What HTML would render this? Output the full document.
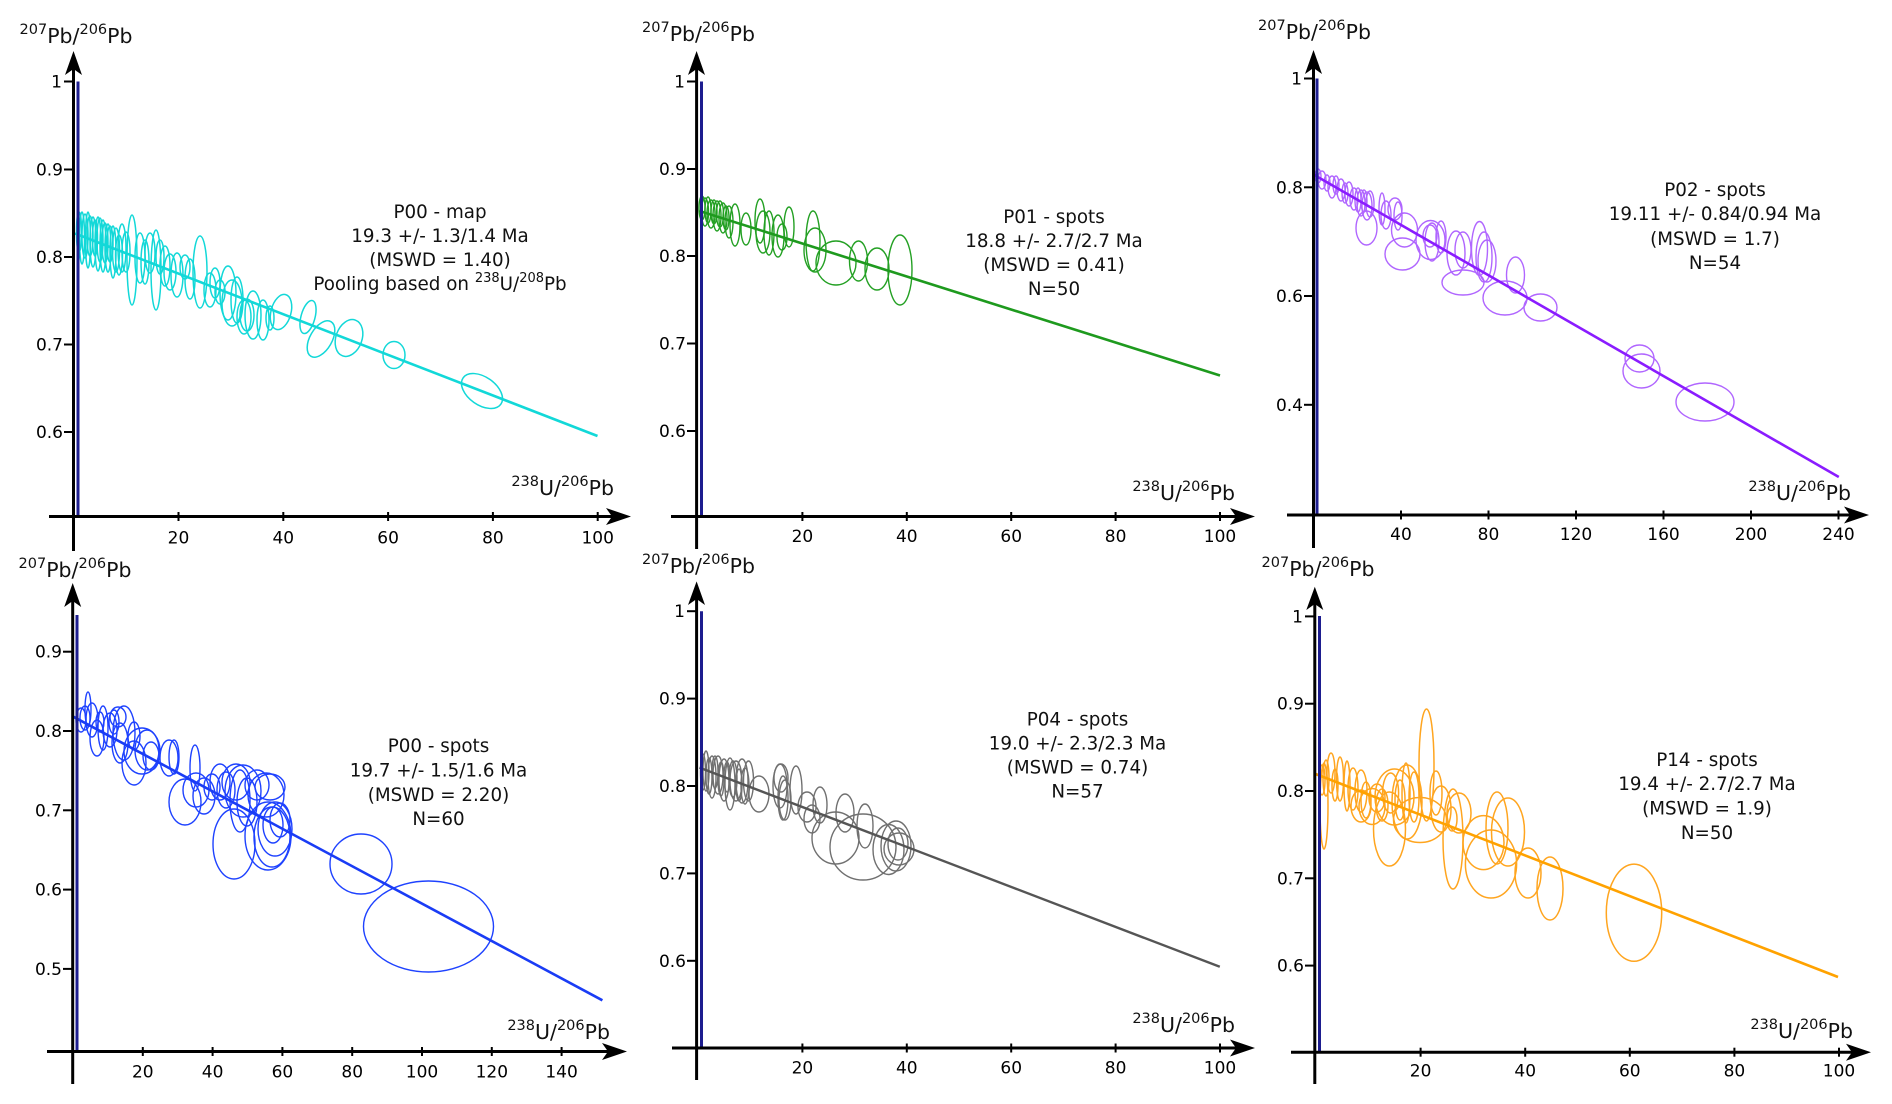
<!DOCTYPE html>
<html><head><meta charset="utf-8"><style>
html,body{margin:0;padding:0;background:#fff;}
svg{display:block;font-family:"DejaVu Sans","Liberation Sans",sans-serif;}
.t{font-size:17px;fill:#000;}
.a{font-size:18.3px;fill:#111;text-anchor:middle;}
.ti{fill:#111;font-size:20.5px;}
.ax{stroke:#000;stroke-width:3;fill:none;}
.tk{stroke:#000;stroke-width:2;}
.bl{stroke:#1d1d8f;stroke-width:3;}
.c1 ellipse{fill:none;stroke:#12d8d8;stroke-width:1.5;}
.c2 ellipse{fill:none;stroke:#23a023;stroke-width:1.4;}
.c3 ellipse{fill:none;stroke:#b066ff;stroke-width:1.4;}
.c4 ellipse{fill:none;stroke:#1e42ff;stroke-width:1.4;}
.c5 ellipse{fill:none;stroke:#707070;stroke-width:1.4;}
.c6 ellipse{fill:none;stroke:#ffa51f;stroke-width:1.5;}
</style></head><body>
<svg width="1892" height="1104" viewBox="0 0 1892 1104" xmlns="http://www.w3.org/2000/svg">
<rect width="1892" height="1104" fill="#fff"/>

<!-- ================= PANEL 1 ================= -->
<g class="c1">
<ellipse cx="79" cy="232" rx="2.5" ry="20"/><ellipse cx="82" cy="238" rx="2.5" ry="26"/><ellipse cx="85" cy="236" rx="3" ry="22"/>
<ellipse cx="88" cy="240" rx="2.5" ry="28"/><ellipse cx="90" cy="236" rx="3" ry="20"/><ellipse cx="93" cy="242" rx="3" ry="25"/>
<ellipse cx="95" cy="238" rx="2.5" ry="18"/><ellipse cx="98" cy="244" rx="3" ry="27"/><ellipse cx="100" cy="240" rx="3" ry="22"/>
<ellipse cx="103" cy="246" rx="3" ry="26"/><ellipse cx="105" cy="243" rx="3" ry="20"/><ellipse cx="108" cy="248" rx="3" ry="24"/>
<ellipse cx="110" cy="244" rx="3" ry="18"/><ellipse cx="113" cy="252" rx="3" ry="26"/><ellipse cx="116" cy="250" rx="3.5" ry="22"/>
<ellipse cx="119" cy="255" rx="3.5" ry="20"/><ellipse cx="122" cy="248" rx="4" ry="24"/><ellipse cx="126" cy="252" rx="4" ry="20"/>
<ellipse cx="132" cy="260" rx="5" ry="45"/><ellipse cx="140" cy="258" rx="5" ry="25"/><ellipse cx="145" cy="262" rx="4" ry="22"/>
<ellipse cx="150" cy="253" rx="5" ry="20"/><ellipse cx="156" cy="270" rx="5" ry="40"/><ellipse cx="160" cy="257" rx="4" ry="17"/>
<ellipse cx="165" cy="266" rx="5" ry="20"/><ellipse cx="170" cy="272" rx="6" ry="18"/><ellipse cx="177" cy="275" rx="6" ry="22"/>
<ellipse cx="185" cy="267" rx="5" ry="12"/><ellipse cx="190" cy="279" rx="5" ry="20"/><ellipse cx="200" cy="272" rx="7" ry="36"/>
<ellipse cx="210" cy="290" rx="6" ry="17"/><ellipse cx="215" cy="283" rx="5" ry="15"/><ellipse cx="220" cy="292" rx="5" ry="12"/>
<ellipse cx="228" cy="293" rx="8" ry="27"/><ellipse cx="232" cy="303" rx="10" ry="23"/><ellipse cx="237" cy="300" rx="6" ry="23"/>
<ellipse cx="244" cy="317" rx="7" ry="17"/><ellipse cx="247" cy="315" rx="7" ry="16"/><ellipse cx="253" cy="315" rx="8" ry="24"/>
<ellipse cx="263" cy="320" rx="6" ry="20"/><ellipse cx="270" cy="318" rx="4" ry="12"/>
<ellipse cx="281" cy="312" rx="10" ry="18" transform="rotate(15 281 312)"/>
<ellipse cx="308" cy="317" rx="7" ry="17" transform="rotate(15 308 317)"/>
<ellipse cx="321" cy="339" rx="11" ry="20" transform="rotate(30 321 339)"/>
<ellipse cx="349" cy="338" rx="13" ry="19" transform="rotate(20 349 338)"/>
<ellipse cx="394" cy="355" rx="11" ry="13.5"/>
<ellipse cx="482" cy="391" rx="23" ry="14" transform="rotate(35 482 391)"/>
</g>
<line x1="75" y1="233.5" x2="597.5" y2="436" stroke="#12d8d8" stroke-width="2.6"/>
<line class="bl" x1="78" y1="81.5" x2="78" y2="516.5"/>
<line class="ax" x1="49" y1="516.5" x2="620" y2="516.5"/>
<polygon points="631,516.5 606,508 612,516.5 606,525" fill="#000"/>
<line class="ax" x1="73.5" y1="551" x2="73.5" y2="62"/>
<polygon points="73.5,51 65,75 73.5,69 82,75" fill="#000"/>
<g class="tk">
<line x1="64" y1="81.5" x2="73.5" y2="81.5"/><line x1="64" y1="169.5" x2="73.5" y2="169.5"/><line x1="64" y1="257" x2="73.5" y2="257"/><line x1="64" y1="344.5" x2="73.5" y2="344.5"/><line x1="64" y1="432" x2="73.5" y2="432"/>
<line x1="178.5" y1="512" x2="178.5" y2="521"/><line x1="283.3" y1="512" x2="283.3" y2="521"/><line x1="388.1" y1="512" x2="388.1" y2="521"/><line x1="492.9" y1="512" x2="492.9" y2="521"/><line x1="597.7" y1="512" x2="597.7" y2="521"/>
</g>
<g class="t" text-anchor="end">
<text x="62" y="87.5">1</text><text x="63" y="175.5">0.9</text><text x="63" y="263">0.8</text><text x="63" y="350.5">0.7</text><text x="63" y="438">0.6</text>
</g>
<g class="t" text-anchor="middle">
<text x="178.5" y="543.5">20</text><text x="283.3" y="543.5">40</text><text x="388.1" y="543.5">60</text><text x="492.9" y="543.5">80</text><text x="597.7" y="543.5">100</text>
</g>
<text class="ti" x="19.5" y="43"><tspan font-size="14.5" dy="-9">207</tspan><tspan dy="9">Pb/</tspan><tspan font-size="14.5" dy="-9">206</tspan><tspan dy="9">Pb</tspan></text>
<text class="ti" x="614" y="495" text-anchor="end"><tspan font-size="14.5" dy="-9">238</tspan><tspan dy="9">U/</tspan><tspan font-size="14.5" dy="-9">206</tspan><tspan dy="9">Pb</tspan></text>
<text class="a" x="440" y="218">P00 - map</text>
<text class="a" x="440" y="242">19.3 +/- 1.3/1.4 Ma</text>
<text class="a" x="440" y="266">(MSWD = 1.40)</text>
<text class="a" x="440" y="290">Pooling based on <tspan font-size="13" dy="-8">238</tspan><tspan dy="8">U/</tspan><tspan font-size="13" dy="-8">208</tspan><tspan dy="8">Pb</tspan></text>

<!-- ================= PANEL 2 ================= -->
<g class="c2">
<ellipse cx="702" cy="208" rx="3" ry="12"/><ellipse cx="705" cy="212" rx="3.5" ry="14"/><ellipse cx="708" cy="210" rx="3" ry="13"/>
<ellipse cx="711" cy="214" rx="4" ry="14"/><ellipse cx="714" cy="212" rx="3" ry="12"/><ellipse cx="717" cy="216" rx="4" ry="15"/>
<ellipse cx="720" cy="214" rx="3.5" ry="13"/><ellipse cx="723" cy="218" rx="4" ry="15"/><ellipse cx="726" cy="218" rx="3" ry="12"/>
<ellipse cx="729" cy="222" rx="4" ry="16"/><ellipse cx="735" cy="225" rx="5" ry="21"/><ellipse cx="746" cy="229" rx="5" ry="16"/>
<ellipse cx="760" cy="221" rx="5" ry="22"/><ellipse cx="763" cy="232" rx="7" ry="21"/><ellipse cx="769" cy="233" rx="5" ry="22"/>
<ellipse cx="778" cy="236" rx="6" ry="21"/><ellipse cx="782" cy="237" rx="5" ry="13"/><ellipse cx="789" cy="227" rx="5" ry="20"/>
<ellipse cx="813" cy="241" rx="7" ry="30"/><ellipse cx="815" cy="250" rx="11" ry="22"/><ellipse cx="836" cy="263" rx="20" ry="22"/>
<ellipse cx="858.5" cy="261" rx="9" ry="20"/><ellipse cx="877" cy="269" rx="12" ry="21"/><ellipse cx="900" cy="270" rx="12" ry="35"/>
</g>
<line x1="699.5" y1="211" x2="1220" y2="375.5" stroke="#1e9a1e" stroke-width="2.6"/>
<line class="bl" x1="701.5" y1="81.5" x2="701.5" y2="516.5"/>
<line class="ax" x1="671" y1="516.5" x2="1244" y2="516.5"/>
<polygon points="1255,516.5 1230,508 1236,516.5 1230,525" fill="#000"/>
<line class="ax" x1="696.6" y1="549" x2="696.6" y2="62"/>
<polygon points="696.6,51 688,75 696.6,69 705,75" fill="#000"/>
<g class="tk">
<line x1="687" y1="81.5" x2="696.6" y2="81.5"/><line x1="687" y1="169" x2="696.6" y2="169"/><line x1="687" y1="256" x2="696.6" y2="256"/><line x1="687" y1="343.5" x2="696.6" y2="343.5"/><line x1="687" y1="431" x2="696.6" y2="431"/>
<line x1="802.4" y1="512" x2="802.4" y2="521"/><line x1="906.8" y1="512" x2="906.8" y2="521"/><line x1="1011.2" y1="512" x2="1011.2" y2="521"/><line x1="1115.6" y1="512" x2="1115.6" y2="521"/><line x1="1220" y1="512" x2="1220" y2="521"/>
</g>
<g class="t" text-anchor="end">
<text x="685" y="87.5">1</text><text x="686" y="175">0.9</text><text x="686" y="262">0.8</text><text x="686" y="349.5">0.7</text><text x="686" y="437">0.6</text>
</g>
<g class="t" text-anchor="middle">
<text x="802.4" y="542">20</text><text x="906.8" y="542">40</text><text x="1011.2" y="542">60</text><text x="1115.6" y="542">80</text><text x="1220" y="542">100</text>
</g>
<text class="ti" x="642" y="41"><tspan font-size="14.5" dy="-9">207</tspan><tspan dy="9">Pb/</tspan><tspan font-size="14.5" dy="-9">206</tspan><tspan dy="9">Pb</tspan></text>
<text class="ti" x="1235" y="500" text-anchor="end"><tspan font-size="14.5" dy="-9">238</tspan><tspan dy="9">U/</tspan><tspan font-size="14.5" dy="-9">206</tspan><tspan dy="9">Pb</tspan></text>
<text class="a" x="1054" y="223">P01 - spots</text>
<text class="a" x="1054" y="247">18.8 +/- 2.7/2.7 Ma</text>
<text class="a" x="1054" y="271">(MSWD = 0.41)</text>
<text class="a" x="1054" y="295">N=50</text>

<!-- ================= PANEL 3 ================= -->
<g class="c3">
<ellipse cx="1318" cy="176" rx="3" ry="7"/><ellipse cx="1322" cy="180" rx="4" ry="9"/><ellipse cx="1327" cy="183" rx="3" ry="8"/>
<ellipse cx="1332" cy="187" rx="4" ry="11"/><ellipse cx="1336" cy="185" rx="3" ry="9"/><ellipse cx="1341" cy="190" rx="4" ry="11"/>
<ellipse cx="1345" cy="193" rx="3" ry="10"/><ellipse cx="1349" cy="194" rx="4" ry="12"/><ellipse cx="1354" cy="199" rx="4" ry="11"/>
<ellipse cx="1358" cy="200" rx="3" ry="12"/><ellipse cx="1361" cy="203" rx="4" ry="13"/><ellipse cx="1364" cy="201" rx="3" ry="11"/>
<ellipse cx="1367" cy="206" rx="5" ry="14"/><ellipse cx="1370" cy="204" rx="4" ry="13"/><ellipse cx="1366.5" cy="228" rx="10.5" ry="17"/>
<ellipse cx="1382" cy="209" rx="3" ry="16"/><ellipse cx="1386" cy="215" rx="5" ry="14"/><ellipse cx="1395" cy="209" rx="7" ry="11"/>
<ellipse cx="1398" cy="216" rx="4" ry="14"/><ellipse cx="1404.5" cy="230" rx="13" ry="17"/><ellipse cx="1402.5" cy="254" rx="17.5" ry="16"/>
<ellipse cx="1430" cy="236" rx="7" ry="11"/><ellipse cx="1430.5" cy="240" rx="14.5" ry="19.5"/><ellipse cx="1432" cy="242" rx="7" ry="19"/>
<ellipse cx="1441" cy="237" rx="5" ry="16"/><ellipse cx="1456" cy="253" rx="9" ry="22"/><ellipse cx="1463" cy="250" rx="8" ry="18"/>
<ellipse cx="1463" cy="282.5" rx="21" ry="12.5"/><ellipse cx="1479.5" cy="248.5" rx="8" ry="27"/><ellipse cx="1484" cy="257" rx="8" ry="25"/>
<ellipse cx="1487" cy="261" rx="9" ry="21"/><ellipse cx="1505" cy="298" rx="22" ry="17"/><ellipse cx="1515.5" cy="275" rx="9" ry="18"/>
<ellipse cx="1540.5" cy="307.5" rx="16.5" ry="13.5"/><ellipse cx="1639.5" cy="358.5" rx="14.5" ry="13.5"/><ellipse cx="1641.5" cy="371" rx="18.5" ry="17"/>
<ellipse cx="1705" cy="402" rx="29" ry="19"/>
</g>
<line x1="1313.5" y1="174.5" x2="1838.8" y2="477" stroke="#8a1cff" stroke-width="2.6"/>
<line class="bl" x1="1317" y1="78.5" x2="1317" y2="515"/>
<line class="ax" x1="1287" y1="515" x2="1858" y2="515"/>
<polygon points="1869,515 1844,506.5 1850,515 1844,523.5" fill="#000"/>
<line class="ax" x1="1313.5" y1="548" x2="1313.5" y2="61"/>
<polygon points="1313.5,50 1305,74 1313.5,68 1322,74" fill="#000"/>
<g class="tk">
<line x1="1304" y1="78.5" x2="1313.5" y2="78.5"/><line x1="1304" y1="187.3" x2="1313.5" y2="187.3"/><line x1="1304" y1="296" x2="1313.5" y2="296"/><line x1="1304" y1="404.8" x2="1313.5" y2="404.8"/>
<line x1="1401" y1="510.5" x2="1401" y2="519.5"/><line x1="1488.5" y1="510.5" x2="1488.5" y2="519.5"/><line x1="1576" y1="510.5" x2="1576" y2="519.5"/><line x1="1663.5" y1="510.5" x2="1663.5" y2="519.5"/><line x1="1751" y1="510.5" x2="1751" y2="519.5"/><line x1="1838.5" y1="510.5" x2="1838.5" y2="519.5"/>
</g>
<g class="t" text-anchor="end">
<text x="1302" y="84.5">1</text><text x="1303" y="193.3">0.8</text><text x="1303" y="302">0.6</text><text x="1303" y="410.8">0.4</text>
</g>
<g class="t" text-anchor="middle">
<text x="1401" y="540">40</text><text x="1488.5" y="540">80</text><text x="1576" y="540">120</text><text x="1663.5" y="540">160</text><text x="1751" y="540">200</text><text x="1838.5" y="540">240</text>
</g>
<text class="ti" x="1258" y="39"><tspan font-size="14.5" dy="-9">207</tspan><tspan dy="9">Pb/</tspan><tspan font-size="14.5" dy="-9">206</tspan><tspan dy="9">Pb</tspan></text>
<text class="ti" x="1851" y="500" text-anchor="end"><tspan font-size="14.5" dy="-9">238</tspan><tspan dy="9">U/</tspan><tspan font-size="14.5" dy="-9">206</tspan><tspan dy="9">Pb</tspan></text>
<text class="a" x="1715" y="196">P02 - spots</text>
<text class="a" x="1715" y="220">19.11 +/- 0.84/0.94 Ma</text>
<text class="a" x="1715" y="245">(MSWD = 1.7)</text>
<text class="a" x="1715" y="269">N=54</text>

<!-- ================= PANEL 4 ================= -->
<g class="c4">
<ellipse cx="81" cy="720" rx="5" ry="12"/><ellipse cx="85" cy="718" rx="5" ry="12"/><ellipse cx="88" cy="709" rx="3" ry="17"/>
<ellipse cx="92" cy="720" rx="6" ry="17"/><ellipse cx="97" cy="738" rx="7" ry="18"/><ellipse cx="100" cy="722" rx="4" ry="10"/>
<ellipse cx="103" cy="728" rx="5" ry="22"/><ellipse cx="110" cy="730" rx="7" ry="17"/><ellipse cx="114" cy="722" rx="5" ry="12"/>
<ellipse cx="118" cy="717" rx="8" ry="10"/><ellipse cx="120" cy="743" rx="8" ry="20"/><ellipse cx="124" cy="733" rx="11" ry="27"/>
<ellipse cx="134" cy="736" rx="6" ry="14"/><ellipse cx="134" cy="763" rx="12" ry="22"/><ellipse cx="142" cy="751" rx="18" ry="23"/>
<ellipse cx="147" cy="750" rx="12" ry="20"/><ellipse cx="151" cy="756" rx="8" ry="14"/><ellipse cx="169" cy="758" rx="9" ry="18"/>
<ellipse cx="174" cy="757" rx="5" ry="17"/><ellipse cx="185" cy="802" rx="16" ry="23"/><ellipse cx="195" cy="768" rx="5" ry="23"/>
<ellipse cx="196" cy="790" rx="13" ry="17"/><ellipse cx="204" cy="796" rx="11" ry="18"/><ellipse cx="212" cy="787" rx="8" ry="13"/>
<ellipse cx="220" cy="782" rx="10" ry="18"/><ellipse cx="226" cy="790" rx="9" ry="18"/><ellipse cx="234" cy="844" rx="21" ry="35"/>
<ellipse cx="236" cy="782" rx="14" ry="18"/><ellipse cx="240" cy="801" rx="10" ry="31"/><ellipse cx="243" cy="791" rx="18" ry="26"/>
<ellipse cx="247" cy="802" rx="10" ry="24"/><ellipse cx="257" cy="785" rx="12" ry="15"/><ellipse cx="266" cy="795" rx="18" ry="22"/>
<ellipse cx="268" cy="836" rx="23" ry="34"/><ellipse cx="270" cy="787" rx="15" ry="13"/><ellipse cx="272" cy="837" rx="18" ry="30"/>
<ellipse cx="273" cy="825" rx="10" ry="18"/><ellipse cx="275" cy="829" rx="17" ry="27"/><ellipse cx="280" cy="820" rx="10" ry="17"/>
<ellipse cx="361" cy="864" rx="31" ry="30"/><ellipse cx="428.5" cy="926.5" rx="65" ry="45.5"/>
</g>
<line x1="73.3" y1="716.7" x2="602.4" y2="1000.3" stroke="#1a3cf5" stroke-width="2.6"/>
<line class="bl" x1="77" y1="615" x2="77" y2="1051.5"/>
<line class="ax" x1="47" y1="1051.5" x2="616" y2="1051.5"/>
<polygon points="627,1051.5 602,1043 608,1051.5 602,1060" fill="#000"/>
<line class="ax" x1="72.7" y1="1084" x2="72.7" y2="594"/>
<polygon points="72.7,583 64.2,607 72.7,601 81.2,607" fill="#000"/>
<g class="tk">
<line x1="63" y1="651.7" x2="72.7" y2="651.7"/><line x1="63" y1="731" x2="72.7" y2="731"/><line x1="63" y1="810.3" x2="72.7" y2="810.3"/><line x1="63" y1="889.6" x2="72.7" y2="889.6"/><line x1="63" y1="968.9" x2="72.7" y2="968.9"/>
<line x1="142.8" y1="1047" x2="142.8" y2="1056"/><line x1="212.6" y1="1047" x2="212.6" y2="1056"/><line x1="282.4" y1="1047" x2="282.4" y2="1056"/><line x1="352.2" y1="1047" x2="352.2" y2="1056"/><line x1="422" y1="1047" x2="422" y2="1056"/><line x1="491.8" y1="1047" x2="491.8" y2="1056"/><line x1="561.6" y1="1047" x2="561.6" y2="1056"/>
</g>
<g class="t" text-anchor="end">
<text x="62" y="657.7">0.9</text><text x="62" y="737">0.8</text><text x="62" y="816.3">0.7</text><text x="62" y="895.6">0.6</text><text x="62" y="974.9">0.5</text>
</g>
<g class="t" text-anchor="middle">
<text x="142.8" y="1077.5">20</text><text x="212.6" y="1077.5">40</text><text x="282.4" y="1077.5">60</text><text x="352.2" y="1077.5">80</text><text x="422" y="1077.5">100</text><text x="491.8" y="1077.5">120</text><text x="561.6" y="1077.5">140</text>
</g>
<text class="ti" x="18.5" y="577"><tspan font-size="14.5" dy="-9">207</tspan><tspan dy="9">Pb/</tspan><tspan font-size="14.5" dy="-9">206</tspan><tspan dy="9">Pb</tspan></text>
<text class="ti" x="610" y="1039" text-anchor="end"><tspan font-size="14.5" dy="-9">238</tspan><tspan dy="9">U/</tspan><tspan font-size="14.5" dy="-9">206</tspan><tspan dy="9">Pb</tspan></text>
<text class="a" x="438.5" y="752">P00 - spots</text>
<text class="a" x="438.5" y="776.5">19.7 +/- 1.5/1.6 Ma</text>
<text class="a" x="438.5" y="801">(MSWD = 2.20)</text>
<text class="a" x="438.5" y="825">N=60</text>

<!-- ================= PANEL 5 ================= -->
<g class="c5">
<ellipse cx="703" cy="772" rx="2.5" ry="18"/><ellipse cx="706" cy="771" rx="3" ry="20"/><ellipse cx="709" cy="776" rx="3" ry="18"/>
<ellipse cx="712" cy="777" rx="4" ry="21"/><ellipse cx="715" cy="772" rx="3" ry="16"/><ellipse cx="718" cy="775" rx="5" ry="19"/>
<ellipse cx="721" cy="779" rx="3" ry="17"/><ellipse cx="724" cy="780" rx="5" ry="21"/><ellipse cx="727" cy="777" rx="3" ry="15"/>
<ellipse cx="730" cy="784" rx="5" ry="26"/><ellipse cx="733" cy="779" rx="4" ry="18"/><ellipse cx="736" cy="781" rx="6" ry="20"/>
<ellipse cx="739" cy="785" rx="3" ry="16"/><ellipse cx="742" cy="781" rx="6" ry="22"/><ellipse cx="745" cy="786" rx="4" ry="18"/>
<ellipse cx="748.5" cy="781" rx="5" ry="20"/><ellipse cx="759" cy="794" rx="10" ry="18"/><ellipse cx="781" cy="778" rx="7" ry="14"/>
<ellipse cx="780" cy="786" rx="7" ry="22"/><ellipse cx="783" cy="798" rx="5" ry="22"/><ellipse cx="785" cy="800" rx="6" ry="20"/>
<ellipse cx="796" cy="790" rx="6" ry="24"/><ellipse cx="807" cy="807" rx="9" ry="15"/><ellipse cx="812" cy="819" rx="8" ry="14"/>
<ellipse cx="820" cy="805" rx="7" ry="18"/><ellipse cx="835.5" cy="838" rx="23.5" ry="26"/><ellipse cx="845" cy="813" rx="9" ry="19"/>
<ellipse cx="863" cy="847" rx="33" ry="33"/><ellipse cx="865" cy="826" rx="8" ry="22"/><ellipse cx="888.5" cy="849.5" rx="15.5" ry="25"/>
<ellipse cx="896" cy="846" rx="15" ry="25"/><ellipse cx="899" cy="849" rx="15" ry="16"/><ellipse cx="898" cy="844" rx="10" ry="16"/>
</g>
<line x1="699.5" y1="767.6" x2="1219.8" y2="966.8" stroke="#555" stroke-width="2.4"/>
<line class="bl" x1="701.5" y1="611.2" x2="701.5" y2="1048"/>
<line class="ax" x1="672" y1="1048" x2="1244" y2="1048"/>
<polygon points="1255,1048 1230,1039.5 1236,1048 1230,1056.5" fill="#000"/>
<line class="ax" x1="696.6" y1="1080" x2="696.6" y2="592"/>
<polygon points="696.6,581.4 688,605 696.6,599 705,605" fill="#000"/>
<g class="tk">
<line x1="687" y1="611.2" x2="696.6" y2="611.2"/><line x1="687" y1="698.6" x2="696.6" y2="698.6"/><line x1="687" y1="786" x2="696.6" y2="786"/><line x1="687" y1="873.4" x2="696.6" y2="873.4"/><line x1="687" y1="960.8" x2="696.6" y2="960.8"/>
<line x1="802.4" y1="1043.5" x2="802.4" y2="1052.5"/><line x1="906.8" y1="1043.5" x2="906.8" y2="1052.5"/><line x1="1011.2" y1="1043.5" x2="1011.2" y2="1052.5"/><line x1="1115.6" y1="1043.5" x2="1115.6" y2="1052.5"/><line x1="1220" y1="1043.5" x2="1220" y2="1052.5"/>
</g>
<g class="t" text-anchor="end">
<text x="685" y="617.2">1</text><text x="686" y="704.6">0.9</text><text x="686" y="792">0.8</text><text x="686" y="879.4">0.7</text><text x="686" y="966.8">0.6</text>
</g>
<g class="t" text-anchor="middle">
<text x="802.4" y="1073.5">20</text><text x="906.8" y="1073.5">40</text><text x="1011.2" y="1073.5">60</text><text x="1115.6" y="1073.5">80</text><text x="1220" y="1073.5">100</text>
</g>
<text class="ti" x="642" y="573"><tspan font-size="14.5" dy="-9">207</tspan><tspan dy="9">Pb/</tspan><tspan font-size="14.5" dy="-9">206</tspan><tspan dy="9">Pb</tspan></text>
<text class="ti" x="1235" y="1032" text-anchor="end"><tspan font-size="14.5" dy="-9">238</tspan><tspan dy="9">U/</tspan><tspan font-size="14.5" dy="-9">206</tspan><tspan dy="9">Pb</tspan></text>
<text class="a" x="1077.5" y="725.5">P04 - spots</text>
<text class="a" x="1077.5" y="749.5">19.0 +/- 2.3/2.3 Ma</text>
<text class="a" x="1077.5" y="773.5">(MSWD = 0.74)</text>
<text class="a" x="1077.5" y="797.5">N=57</text>

<!-- ================= PANEL 6 ================= -->
<g class="c6">
<ellipse cx="1322" cy="780" rx="3" ry="15"/><ellipse cx="1324" cy="806" rx="4" ry="43"/><ellipse cx="1326" cy="778" rx="3" ry="18"/>
<ellipse cx="1331" cy="773" rx="4" ry="20"/><ellipse cx="1335" cy="785" rx="3" ry="16"/><ellipse cx="1340" cy="779" rx="3.5" ry="22"/>
<ellipse cx="1347" cy="786" rx="3" ry="25"/><ellipse cx="1353" cy="789" rx="5" ry="21"/><ellipse cx="1361" cy="791" rx="6" ry="21"/>
<ellipse cx="1361" cy="806" rx="10" ry="16"/><ellipse cx="1366" cy="800" rx="5" ry="18"/><ellipse cx="1372" cy="806.5" rx="13" ry="18"/>
<ellipse cx="1377" cy="798" rx="8" ry="14"/><ellipse cx="1382" cy="805" rx="6" ry="16"/><ellipse cx="1389.5" cy="829" rx="16" ry="37"/>
<ellipse cx="1390.6" cy="793" rx="8" ry="20"/><ellipse cx="1394.5" cy="797" rx="19.5" ry="28"/><ellipse cx="1400" cy="800" rx="5" ry="20"/>
<ellipse cx="1406" cy="793" rx="4" ry="30"/><ellipse cx="1407" cy="802" rx="15" ry="37"/><ellipse cx="1414" cy="797" rx="5" ry="25"/>
<ellipse cx="1420" cy="820" rx="26.5" ry="22.5"/><ellipse cx="1426.5" cy="765" rx="7.5" ry="56"/><ellipse cx="1436" cy="793" rx="6" ry="22"/>
<ellipse cx="1441" cy="809" rx="10" ry="23"/><ellipse cx="1453" cy="839" rx="10" ry="50"/><ellipse cx="1452" cy="819" rx="5" ry="12"/>
<ellipse cx="1459" cy="813" rx="12" ry="20"/><ellipse cx="1483.5" cy="842.6" rx="20.5" ry="27"/><ellipse cx="1491" cy="864" rx="25.6" ry="34"/>
<ellipse cx="1497" cy="828" rx="11" ry="36"/><ellipse cx="1508" cy="832" rx="16.5" ry="34"/><ellipse cx="1528" cy="873" rx="13" ry="25"/>
<ellipse cx="1550" cy="888.5" rx="13" ry="31.5"/><ellipse cx="1634" cy="912.7" rx="27.7" ry="48.6"/>
</g>
<line x1="1315.6" y1="774" x2="1838" y2="977" stroke="#ffa200" stroke-width="2.6"/>
<line class="bl" x1="1319.5" y1="616" x2="1319.5" y2="1052.2"/>
<line class="ax" x1="1291" y1="1052.2" x2="1860" y2="1052.2"/>
<polygon points="1871,1052.2 1846,1043.7 1852,1052.2 1846,1060.7" fill="#000"/>
<line class="ax" x1="1314.8" y1="1084" x2="1314.8" y2="598"/>
<polygon points="1314.8,586.8 1306.3,610 1314.8,604 1323.3,610" fill="#000"/>
<g class="tk">
<line x1="1305" y1="616.4" x2="1314.8" y2="616.4"/><line x1="1305" y1="703.7" x2="1314.8" y2="703.7"/><line x1="1305" y1="791" x2="1314.8" y2="791"/><line x1="1305" y1="878.3" x2="1314.8" y2="878.3"/><line x1="1305" y1="965.6" x2="1314.8" y2="965.6"/>
<line x1="1420.6" y1="1047.7" x2="1420.6" y2="1056.7"/><line x1="1525.2" y1="1047.7" x2="1525.2" y2="1056.7"/><line x1="1629.8" y1="1047.7" x2="1629.8" y2="1056.7"/><line x1="1734.4" y1="1047.7" x2="1734.4" y2="1056.7"/><line x1="1839" y1="1047.7" x2="1839" y2="1056.7"/>
</g>
<g class="t" text-anchor="end">
<text x="1303" y="622.4">1</text><text x="1304" y="709.7">0.9</text><text x="1304" y="797">0.8</text><text x="1304" y="884.3">0.7</text><text x="1304" y="971.6">0.6</text>
</g>
<g class="t" text-anchor="middle">
<text x="1420.6" y="1076.7">20</text><text x="1525.2" y="1076.7">40</text><text x="1629.8" y="1076.7">60</text><text x="1734.4" y="1076.7">80</text><text x="1839" y="1076.7">100</text>
</g>
<text class="ti" x="1261.5" y="576"><tspan font-size="14.5" dy="-9">207</tspan><tspan dy="9">Pb/</tspan><tspan font-size="14.5" dy="-9">206</tspan><tspan dy="9">Pb</tspan></text>
<text class="ti" x="1853" y="1038" text-anchor="end"><tspan font-size="14.5" dy="-9">238</tspan><tspan dy="9">U/</tspan><tspan font-size="14.5" dy="-9">206</tspan><tspan dy="9">Pb</tspan></text>
<text class="a" x="1707" y="766">P14 - spots</text>
<text class="a" x="1707" y="790">19.4 +/- 2.7/2.7 Ma</text>
<text class="a" x="1707" y="814.5">(MSWD = 1.9)</text>
<text class="a" x="1707" y="839">N=50</text>
</svg>
</body></html>
